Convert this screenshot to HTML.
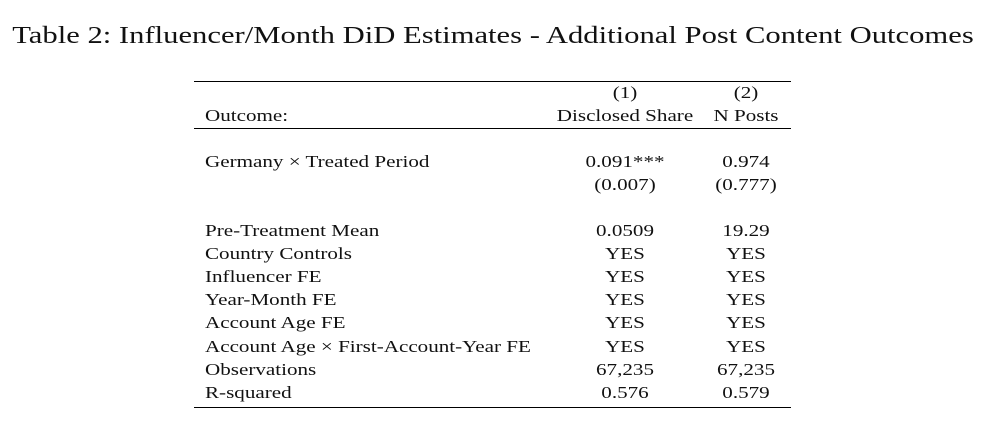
<!DOCTYPE html>
<html><head><meta charset="utf-8">
<style>
body{margin:0;width:996px;height:427px;background:#fff;position:relative;overflow:hidden;font-family:"Liberation Serif","DejaVu Serif",serif;color:#111;}
.t{position:absolute;font-size:17px;line-height:20px;white-space:nowrap;}
.c1{left:545px;width:160px;text-align:center;transform:scaleX(1.24);transform-origin:center;}
.c2{left:696px;width:100px;text-align:center;transform:scaleX(1.24);transform-origin:center;}
.l{left:205px;transform:scaleX(1.24);transform-origin:left center;}
.rule{position:absolute;left:194px;width:597px;height:1px;background:#000;}
</style></head><body>
<div class="t" style="left:0;width:986px;text-align:center;top:22px;font-size:24.5px;line-height:28px;transform:scaleX(1.25);transform-origin:center;">Table 2: Influencer/Month DiD Estimates - Additional Post Content Outcomes</div>
<div class="rule" style="top:81px"></div>
<div class="rule" style="top:128px"></div>
<div class="rule" style="top:407px"></div>

<div class="t c1" style="top:83px">(1)</div>
<div class="t c2" style="top:83px">(2)</div>
<div class="t l" style="top:106px">Outcome:</div>
<div class="t c1" style="top:106px">Disclosed Share</div>
<div class="t c2" style="top:106px">N Posts</div>

<div class="t l" style="top:152px">Germany × Treated Period</div>
<div class="t c1" style="top:152px">0.091***</div>
<div class="t c2" style="top:152px">0.974</div>
<div class="t c1" style="top:175px">(0.007)</div>
<div class="t c2" style="top:175px">(0.777)</div>

<div class="t l" style="top:221px">Pre-Treatment Mean</div>
<div class="t c1" style="top:221px">0.0509</div>
<div class="t c2" style="top:221px">19.29</div>

<div class="t l" style="top:244px">Country Controls</div>
<div class="t c1" style="top:244px">YES</div>
<div class="t c2" style="top:244px">YES</div>

<div class="t l" style="top:267px">Influencer FE</div>
<div class="t c1" style="top:267px">YES</div>
<div class="t c2" style="top:267px">YES</div>

<div class="t l" style="top:290px">Year-Month FE</div>
<div class="t c1" style="top:290px">YES</div>
<div class="t c2" style="top:290px">YES</div>

<div class="t l" style="top:313px">Account Age FE</div>
<div class="t c1" style="top:313px">YES</div>
<div class="t c2" style="top:313px">YES</div>

<div class="t l" style="top:337px">Account Age × First-Account-Year FE</div>
<div class="t c1" style="top:337px">YES</div>
<div class="t c2" style="top:337px">YES</div>

<div class="t l" style="top:360px">Observations</div>
<div class="t c1" style="top:360px">67,235</div>
<div class="t c2" style="top:360px">67,235</div>

<div class="t l" style="top:383px">R-squared</div>
<div class="t c1" style="top:383px">0.576</div>
<div class="t c2" style="top:383px">0.579</div>
</body></html>
